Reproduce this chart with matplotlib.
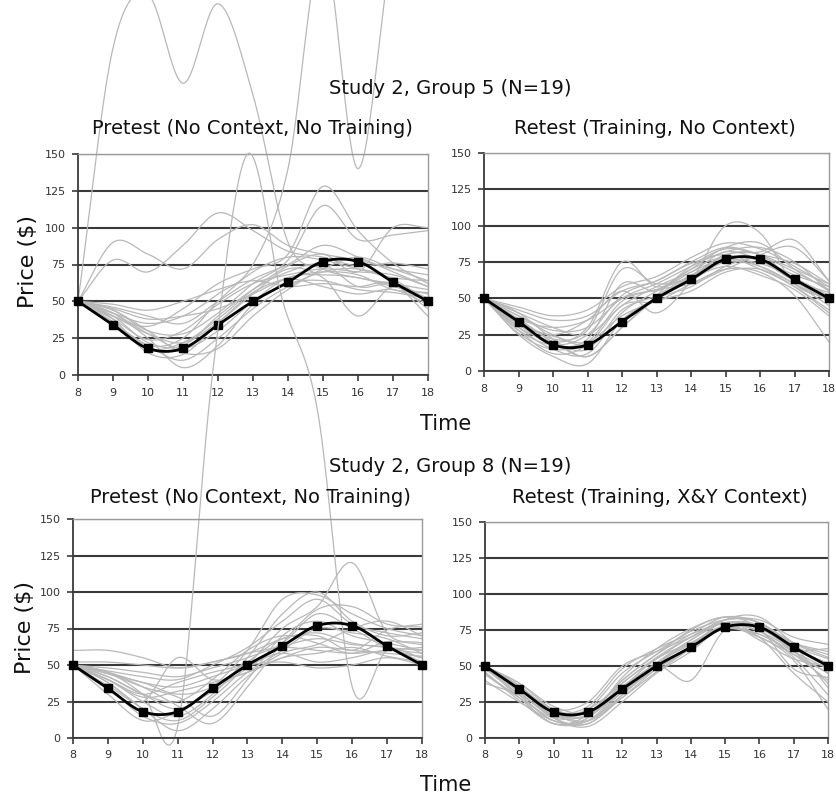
import numpy as np
import matplotlib
matplotlib.use("Agg")
import matplotlib.pyplot as plt

# Time axis (x values) shared by every panel
TIME = [8, 9, 10, 11, 12, 13, 14, 15, 16, 17, 18]
Y_TICKS = [0, 25, 50, 75, 100, 125, 150]

# Target price path (black line with square markers)
TARGET = [50, 34, 18, 18, 34, 50, 63, 77, 77, 63, 50]

# Study 2, Group 5 - Pretest (No Context, No Training)
g5_pretest = [
    [50, 222, 258, 198, 252, 190, 90, 72, 66, 62, 58],
    [50, 42, 35, 40, 55, 75, 140, 290, 140, 290, 330],
    [50, 90, 82, 72, 92, 102, 88, 82, 78, 72, 68],
    [50, 78, 70, 88, 110, 98, 84, 80, 74, 76, 72],
    [50, 40, 33, 45, 62, 72, 82, 128, 98, 76, 62],
    [50, 44, 30, 28, 42, 62, 78, 115, 92, 95, 98],
    [50, 40, 22, 20, 40, 58, 70, 75, 60, 62, 52],
    [50, 38, 24, 30, 48, 62, 68, 72, 70, 68, 60],
    [50, 42, 28, 18, 30, 50, 66, 68, 66, 60, 55],
    [50, 35, 20, 10, 25, 45, 60, 70, 72, 65, 50],
    [50, 45, 38, 40, 45, 55, 65, 60, 55, 58, 48],
    [50, 38, 15, 14, 35, 55, 72, 66, 40, 60, 45],
    [50, 46, 40, 35, 50, 65, 75, 88, 80, 70, 60],
    [50, 36, 20, 25, 50, 70, 80, 78, 72, 66, 64],
    [50, 42, 25, 5, 20, 48, 62, 64, 58, 56, 52],
    [50, 48, 44, 50, 58, 64, 60, 62, 60, 62, 40],
    [50, 36, 18, 22, 38, 58, 74, 82, 70, 100, 100],
    [50, 44, 30, 15, 18, 40, 58, 72, 80, 72, 64],
    [50, 40, 28, 22, 36, 56, 66, 70, 68, 58, 56],
]

# Study 2, Group 5 - Retest (Training, No Context)
g5_retest = [
    [50, 35, 20, 10, 30, 50, 65, 80, 80, 62, 48],
    [50, 30, 15, 12, 40, 55, 70, 85, 88, 70, 55],
    [50, 40, 30, 25, 45, 58, 68, 78, 76, 66, 58],
    [50, 25, 10, 5, 35, 50, 62, 75, 72, 60, 45],
    [50, 38, 28, 30, 50, 60, 72, 82, 85, 75, 55],
    [50, 42, 35, 38, 55, 62, 75, 85, 80, 70, 60],
    [50, 32, 18, 22, 60, 55, 70, 78, 70, 58, 40],
    [50, 28, 12, 18, 45, 48, 60, 70, 68, 52, 20],
    [50, 36, 22, 28, 70, 60, 65, 80, 82, 90, 62],
    [50, 34, 25, 35, 55, 40, 62, 100, 95, 60, 50],
    [50, 30, 20, 15, 42, 52, 66, 76, 74, 64, 52],
    [50, 44, 38, 42, 58, 65, 78, 88, 84, 72, 58],
    [50, 26, 15, 20, 48, 56, 64, 72, 66, 56, 38],
    [50, 38, 25, 18, 35, 50, 58, 72, 78, 68, 56],
    [50, 33, 20, 30, 75, 58, 68, 82, 76, 62, 54],
    [50, 40, 22, 10, 30, 52, 72, 84, 80, 74, 60],
    [50, 28, 18, 25, 52, 62, 74, 80, 72, 60, 48],
    [50, 36, 30, 35, 50, 56, 60, 70, 80, 85, 62],
    [50, 32, 24, 20, 38, 48, 55, 68, 70, 58, 42],
]

# Study 2, Group 8 - Pretest (No Context, No Training)
g8_pretest = [
    [50, 45, 30, 8, 250, 400, 300, 225, 35, 60, 55],
    [60, 60, 55, 48, 52, 58, 62, 60, 58, 60, 62],
    [50, 40, 25, 15, 30, 55, 85, 100, 80, 70, 72],
    [50, 42, 30, 20, 35, 60, 95, 98, 85, 75, 70],
    [50, 38, 20, 12, 28, 50, 75, 90, 120, 72, 65],
    [50, 44, 35, 28, 15, 40, 70, 80, 70, 65, 60],
    [50, 35, 15, 10, 25, 45, 60, 75, 72, 68, 58],
    [50, 45, 38, 35, 42, 50, 58, 52, 55, 60, 55],
    [50, 30, 12, 18, 32, 48, 62, 68, 64, 62, 52],
    [50, 48, 45, 42, 48, 55, 65, 85, 75, 62, 58],
    [50, 40, 30, 38, 45, 50, 52, 48, 50, 55, 50],
    [50, 36, 25, 55, 40, 45, 55, 62, 60, 58, 56],
    [52, 52, 50, 48, 52, 58, 68, 72, 65, 62, 60],
    [50, 45, 35, 22, 10, 35, 65, 88, 90, 78, 76],
    [50, 42, 30, 25, 40, 60, 70, 65, 58, 66, 64],
    [50, 38, 20, 5, 20, 42, 58, 64, 75, 80, 70],
    [50, 46, 42, 40, 50, 62, 80, 95, 78, 72, 68],
    [50, 40, 28, 32, 38, 45, 55, 58, 62, 56, 52],
    [50, 44, 38, 30, 35, 52, 68, 70, 60, 74, 78],
]

# Study 2, Group 8 - Retest (Training, X&Y Context)
g8_retest = [
    [50, 35, 18, 15, 35, 52, 65, 78, 76, 62, 50],
    [48, 30, 12, 12, 30, 50, 68, 80, 78, 60, 45],
    [45, 28, 10, 14, 38, 55, 70, 82, 80, 64, 55],
    [40, 25, 12, 10, 28, 48, 62, 76, 72, 58, 40],
    [50, 38, 20, 18, 40, 58, 72, 84, 80, 66, 58],
    [50, 32, 15, 20, 45, 60, 74, 82, 82, 70, 65],
    [50, 36, 14, 8, 25, 45, 60, 78, 74, 56, 30],
    [38, 30, 16, 12, 32, 50, 40, 75, 70, 54, 20],
    [50, 34, 18, 22, 48, 62, 72, 80, 78, 66, 60],
    [50, 28, 10, 16, 40, 58, 75, 84, 76, 48, 42],
    [48, 34, 20, 15, 35, 55, 66, 76, 72, 60, 48],
    [50, 32, 14, 10, 30, 52, 68, 80, 76, 62, 52],
    [50, 36, 20, 25, 50, 60, 70, 80, 70, 45, 25],
    [46, 26, 10, 12, 34, 52, 66, 78, 74, 60, 38],
    [50, 38, 22, 18, 36, 50, 64, 82, 84, 66, 56],
    [50, 30, 12, 14, 42, 62, 76, 84, 80, 62, 62],
    [44, 28, 14, 16, 32, 48, 62, 76, 70, 58, 45],
    [50, 34, 16, 20, 38, 56, 70, 80, 68, 55, 50],
    [50, 36, 18, 12, 28, 46, 62, 78, 76, 64, 35],
]

W, H = 837, 798


def smooth(xs, ys, n=24):
    # Excel style smoothed line: cubic Hermite through the points (Catmull-Rom tangents)
    xs = np.asarray(xs, float)
    ys = np.asarray(ys, float)
    m = np.gradient(ys, xs)
    px, py = [], []
    for i in range(len(xs) - 1):
        t = np.linspace(0, 1, n, endpoint=False)
        h = xs[i + 1] - xs[i]
        h00 = 2 * t**3 - 3 * t**2 + 1
        h10 = t**3 - 2 * t**2 + t
        h01 = -2 * t**3 + 3 * t**2
        h11 = t**3 - t**2
        px.extend(xs[i] + t * h)
        py.extend(h00 * ys[i] + h10 * h * m[i] + h01 * ys[i + 1] + h11 * h * m[i + 1])
    px.append(xs[-1])
    py.append(ys[-1])
    return np.array(px), np.array(py)


def panel(box, series):
    l, t, r, b = box
    ax = fig.add_axes([l / W, 1 - b / H, (r - l) / W, (b - t) / H])
    ax.set_xlim(TIME[0], TIME[-1])
    ax.set_ylim(0, 150)
    ax.set_xticks(TIME)
    ax.set_yticks(Y_TICKS)
    ax.yaxis.grid(True, color='#3a3a3a', linewidth=1.5, zorder=0)
    ax.set_axisbelow(True)
    for s in series:
        sx, sy = smooth(TIME, s)
        big = max(s) > 150
        ax.plot(sx, sy, color='#b8b8b8', linewidth=0.9, zorder=2, clip_on=not big)
    sx, sy = smooth(TIME, TARGET)
    ax.plot(sx, sy, color='black', linewidth=2.0, zorder=4)
    ax.plot(TIME, TARGET, linestyle='none', marker='s', markersize=6,
            color='black', zorder=5, clip_on=False)
    for side in ('top', 'right'):
        ax.spines[side].set_color('#9a9a9a')
        ax.spines[side].set_linewidth(1.0)
    for side in ('left', 'bottom'):
        ax.spines[side].set_color('#3a3a3a')
        ax.spines[side].set_linewidth(1.3)
    ax.tick_params(direction='out', length=4, width=1.2, color='#3a3a3a',
                   labelsize=8, labelcolor='#333333', pad=5)
    return ax


fig = plt.figure(figsize=(W / 100, H / 100), dpi=100)

panel((78, 154, 428, 375), g5_pretest)
panel((484, 153, 829, 371), g5_retest)
panel((73, 519, 422, 738), g8_pretest)
panel((485, 522, 828, 738), g8_retest)

# Titles and axis labels
def ftext(x, y, s, size, **kw):
    fig.text(x / W, 1 - y / H, s, fontsize=size, ha='center', va='center',
             color='#111111', **kw)

ftext(450, 88, 'Study 2, Group 5 (N=19)', 14)
ftext(252, 128, 'Pretest (No Context, No Training)', 14)
ftext(655, 128, 'Retest (Training, No Context)', 14)
ftext(446, 424, 'Time', 15)
ftext(28, 262, 'Price ($)', 16, rotation=90)

ftext(450, 466, 'Study 2, Group 8 (N=19)', 14)
ftext(250, 497, 'Pretest (No Context, No Training)', 14)
ftext(660, 497, 'Retest (Training, X&Y Context)', 14)
ftext(446, 785, 'Time', 15)
ftext(25, 628, 'Price ($)', 16, rotation=90)

fig.savefig('out.png', dpi=100)
